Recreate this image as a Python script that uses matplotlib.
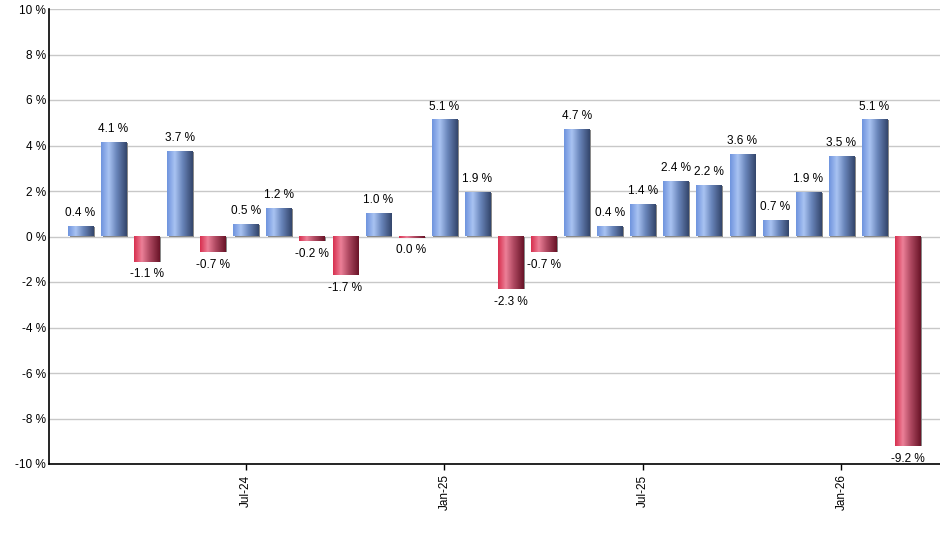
import numpy as np
import matplotlib
matplotlib.use("Agg")
import matplotlib.pyplot as plt
from matplotlib.colors import LinearSegmentedColormap

plt.rcParams['font.family'] = ['Liberation Sans', 'DejaVu Sans']

months = ['Feb-24', 'Mar-24', 'Apr-24', 'May-24', 'Jun-24', 'Jul-24', 'Aug-24', 'Sep-24',
          'Oct-24', 'Nov-24', 'Dec-24', 'Jan-25', 'Feb-25', 'Mar-25', 'Apr-25', 'May-25',
          'Jun-25', 'Jul-25', 'Aug-25', 'Sep-25', 'Oct-25', 'Nov-25', 'Dec-25', 'Jan-26',
          'Feb-26', 'Mar-26']
returns = [0.4, 4.1, -1.1, 3.7, -0.7, 0.5, 1.2, -0.2, -1.7, 1.0, -0.05, 5.1, 1.9, -2.3,
           -0.7, 4.7, 0.4, 1.4, 2.4, 2.2, 3.6, 0.7, 1.9, 3.5, 5.1, -9.2]
labels = ['0.4 %', '4.1 %', '-1.1 %', '3.7 %', '-0.7 %', '0.5 %', '1.2 %', '-0.2 %', '-1.7 %',
          '1.0 %', '0.0 %', '5.1 %', '1.9 %', '-2.3 %', '-0.7 %', '4.7 %', '0.4 %', '1.4 %',
          '2.4 %', '2.2 %', '3.6 %', '0.7 %', '1.9 %', '3.5 %', '5.1 %', '-9.2 %']
tick_months = ['Jul-24', 'Jan-25', 'Jul-25', 'Jan-26']

blue_cmap = LinearSegmentedColormap.from_list(
    'b', [(0, '#6f94de'), (0.3, '#a9c3f2'), (0.6, '#6a86bb'), (1, '#34466c')])
red_cmap = LinearSegmentedColormap.from_list(
    'r', [(0, '#d8304f'), (0.3, '#ec8098'), (0.6, '#b04a62'), (1, '#6a1428')])

fig = plt.figure(figsize=(9.4, 5.5), dpi=100)
ax = fig.add_axes([49 / 940, 86 / 550, 891 / 940, 455 / 550])

x = np.arange(len(returns))
w = 0.76
grad = np.linspace(0, 1, 64).reshape(1, -1)
for xi, v, lab in zip(x, returns, labels):
    cmap = blue_cmap if v >= 0 else red_cmap
    # little grey shadow on the right side
    ax.bar(xi + 0.05, v, width=w, color='#8a8a8a', zorder=2)
    ax.imshow(grad, cmap=cmap, aspect='auto', zorder=3,
              extent=(xi - w / 2, xi + w / 2, 0, v), interpolation='bilinear')
    if v >= 0:
        ax.text(xi, v + 0.35, lab, ha='center', va='bottom', fontsize=8.5, zorder=4)
    else:
        ax.text(xi, v - 0.3, lab, ha='center', va='top', fontsize=8.5, zorder=4)

ax.set_xlim(-0.95, 25.98)
ax.set_ylim(-10, 10)
yt = np.arange(-10, 11, 2)
ax.set_yticks(yt)
ax.set_yticklabels([f'{t} %' for t in yt], fontsize=8.5)
ax.yaxis.grid(True, color='#c8c8c8', linewidth=1)
ax.set_axisbelow(True)
ax.tick_params(axis='y', length=0, pad=2)

ax.set_xticks([months.index(m) for m in tick_months])
ax.set_xticklabels(tick_months, rotation=90, fontsize=8.5)
ax.tick_params(axis='x', length=4, width=1, color='black')

for s in ['top', 'right']:
    ax.spines[s].set_visible(False)
for s in ['left', 'bottom']:
    ax.spines[s].set_color('black')
    ax.spines[s].set_linewidth(1.2)

fig.savefig('out.png', dpi=100)
